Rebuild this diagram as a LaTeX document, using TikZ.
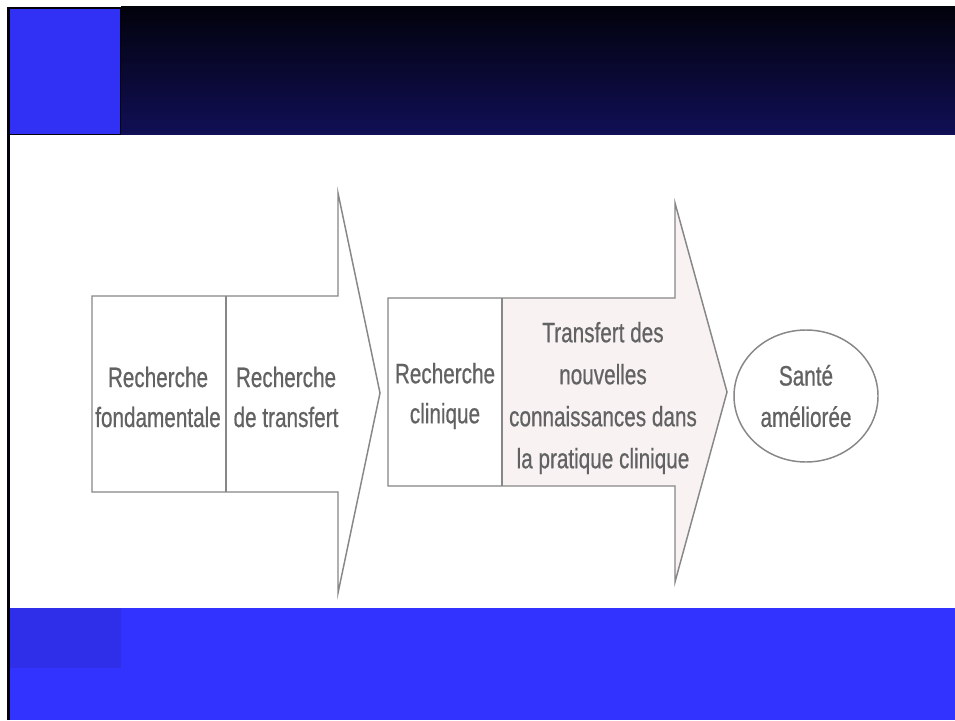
\documentclass[tikz,border=0pt]{standalone}
\usepackage{fontspec}
\usepackage{tikz}
\usetikzlibrary{shapes,shapes.geometric,positioning}
\newfontfamily\flowfont[FakeStretch=0.74, FakeBold=0.6]{Liberation Sans}
\definecolor{slideblue}{RGB}{51, 51, 255}
\definecolor{slidedark}{RGB}{47, 47, 234}
\definecolor{bandtop}{RGB}{2, 2, 12}
\definecolor{bandmid}{RGB}{8, 8, 42}
\definecolor{bandbot}{RGB}{17, 15, 86}
\definecolor{flowline}{RGB}{135, 135, 135}
\definecolor{flowtext}{RGB}{98, 98, 98}
\definecolor{flowpink}{RGB}{248, 242, 242}

\begin{document}
\begin{tikzpicture}[
        x=0.75pt, y=-0.75pt,
        outline/.style={draw=flowline, line width=1.1pt, line join=miter},
        label/.style={align=center, text=flowtext, inner sep=0pt, font=\flowfont\fontsize{21}{30}\selectfont},
        goal/.style={draw=flowline, line width=1.1pt, ellipse, fill=white, minimum width=108pt, minimum height=99pt, inner sep=0pt, align=center, text=flowtext, font=\flowfont\fontsize{21}{31}\selectfont}
    ]
        \useasboundingbox (0,0) rectangle (955,720);
        \fill[white] (0,0) rectangle (955,720);

        % Slide frame
        \shade[top color=bandtop, middle color=bandmid, bottom color=bandbot] (121,7) rectangle (955,135);
        \fill[bandtop] (7,7) rectangle (121,135);
        \fill[slideblue!96!black] (9,9) rectangle (120,134);
        \fill[slideblue] (10,608) rectangle (955,720);
        \fill[slidedark] (10,608) rectangle (121,668);
        \fill[bandtop] (7,7) rectangle (10,720);

        % First arrow
        \draw[outline, fill=white!97!flowpink] (92,296) -- (338,296) -- (338,193) -- (380,393) -- (338,593) -- (338,492) -- (92,492) -- cycle;
        \draw[outline] (226,296) -- (226,492);

        % Second arrow
        \draw[outline, fill=flowpink] (388,298) -- (675,298) -- (675,203) -- (727,392) -- (675,582) -- (675,486) -- (388,486) -- cycle;
        \fill[white!98!flowpink] (389,299) rectangle (501,485);
        \draw[outline] (502,298) -- (502,486);

        % Stages
        \node[label] (fond) at (158,397) {Recherche\\fondamentale};
        \node[label] (transf) at (286,397) {Recherche\\de transfert};
        \node[label] (clin) at (445,396) {Recherche\\clinique};
        \node[label, font=\flowfont\fontsize{21}{31.5}\selectfont] (pratique) at (603,398) {Transfert des\\nouvelles\\connaissances dans\\la pratique clinique};

        % Outcome
        \node[goal] (sante) at (806,396) {Santé\\améliorée};
    \end{tikzpicture}
\end{document}
